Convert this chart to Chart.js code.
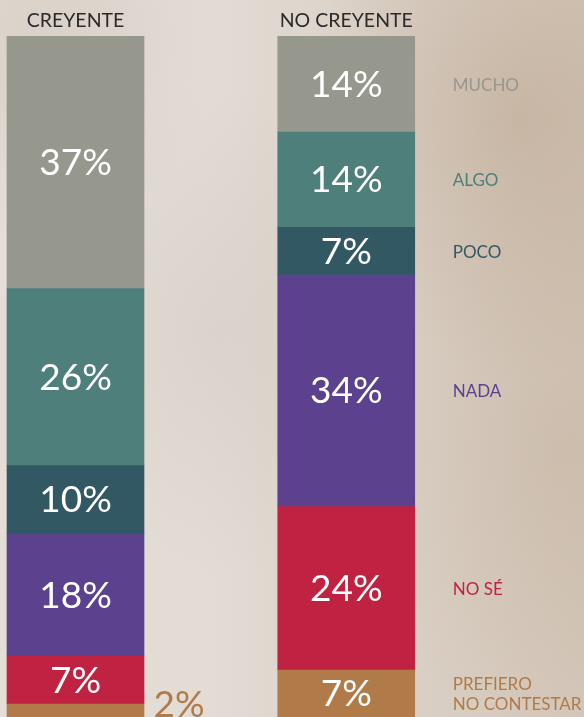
<!DOCTYPE html>
<html>
<head>
<meta charset="utf-8">
<script src="https://cdn.jsdelivr.net/npm/chart.js@4/dist/chart.umd.min.js"></script>
<style>
  html, body { margin: 0; padding: 0; }
  body {
    width: 584px; height: 717px; overflow: hidden;
    background:
      radial-gradient(ellipse 220px 260px at 520px 120px, rgba(165,135,105,0.30), rgba(165,135,105,0) 100%),
      radial-gradient(ellipse 200px 300px at 560px 450px, rgba(175,150,125,0.22), rgba(175,150,125,0) 100%),
      radial-gradient(ellipse 180px 200px at 40px 40px, rgba(185,170,155,0.25), rgba(185,170,155,0) 100%),
      radial-gradient(ellipse 160px 250px at 210px 330px, rgba(180,170,165,0.18), rgba(180,170,165,0) 100%),
      linear-gradient(90deg, #e5ded7 0%, #e3dcd5 35%, #dbd1c7 65%, #d4c7b9 100%);
  }
  #wrap { position: relative; width: 584px; height: 717px; }
</style>
</head>
<body>
<div id="wrap"><canvas id="c"></canvas></div>
<script>
const categories = ['CREYENTE', 'NO CREYENTE'];
const responses = ['MUCHO', 'ALGO', 'POCO', 'NADA', 'NO SÉ', 'PREFIERO NO CONTESTAR'];
const legendLines = [['MUCHO'], ['ALGO'], ['POCO'], ['NADA'], ['NO SÉ'], ['PREFIERO', 'NO CONTESTAR']];
const creyente = [37, 26, 10, 18, 7, 2];
const noCreyente = [14, 14, 7, 34, 24, 7];
const colors = ['#96978d', '#4e7f7a', '#325863', '#5c428e', '#c02341', '#b07b48'];

const datasets = responses.map((r, i) => ({
  label: r,
  data: [{ x: 0, y: creyente[i] }, { x: 1, y: noCreyente[i] }],
  backgroundColor: colors[i],
  borderWidth: 0,
  barThickness: 137
}));

const FONT = 'Lato, "Open Sans", sans-serif';

const labelPlugin = {
  id: 'segLabels',
  afterDatasetsDraw(chart) {
    const ctx = chart.ctx;
    ctx.save();
    chart.data.datasets.forEach((ds, di) => {
      const meta = chart.getDatasetMeta(di);
      meta.data.forEach((el, j) => {
        const v = ds.data[j].y;
        const top = Math.min(el.y, el.base), bot = Math.max(el.y, el.base);
        const cy = (top + bot) / 2;
        ctx.font = '37px ' + FONT;
        ctx.textBaseline = 'alphabetic';
        if (v >= 5) {
          ctx.fillStyle = '#ffffff';
          ctx.textAlign = 'center';
          ctx.fillText(v + '%', el.x, cy + 13.2);
        } else {
          ctx.fillStyle = colors[di];
          ctx.textAlign = 'left';
          ctx.fillText(v + '%', el.x + el.width / 2 + 9.5, bot);
        }
        if (j === 1) {
          ctx.font = '17px ' + FONT;
          ctx.fillStyle = colors[di];
          ctx.textAlign = 'left';
          const lines = legendLines[di];
          const lh = 20;
          const startY = cy - (lines.length - 1) * lh / 2 + 1;
          lines.forEach((ln, k) => {
            ctx.fillText(ln, el.x + el.width / 2 + 38, startY + k * lh + 6);
          });
        }
      });
    });
    ctx.restore();
  }
};

const pxPerUnit = 270.75;
const xMin = -75.5 / pxPerUnit;
const xMax = xMin + 584 / pxPerUnit;

new Chart(document.getElementById('c'), {
  type: 'bar',
  data: { datasets },
  options: {
    responsive: true,
    maintainAspectRatio: false,
    animation: false,
    layout: { padding: 0 },
    plugins: { legend: { display: false }, tooltip: { enabled: false } },
    scales: {
      x: {
        type: 'linear',
        position: 'top',
        offset: false,
        min: xMin,
        max: xMax,
        stacked: true,
        grid: { display: false, drawTicks: false, offset: false },
        border: { display: false },
        afterBuildTicks(scale) { scale.ticks = [{ value: 0 }, { value: 1 }]; },
        afterFit(scale) { scale.height = 36; },
        ticks: {
          autoSkip: false,
          maxRotation: 0,
          padding: 4,
          color: '#2a2a2a',
          font: { family: FONT, size: 19.5 },
          callback: (v) => categories[v]
        }
      },
      y: {
        display: false,
        stacked: true,
        reverse: true,
        min: 0,
        max: 100
      }
    }
  },
  plugins: [labelPlugin]
});
</script>
</body>
</html>
